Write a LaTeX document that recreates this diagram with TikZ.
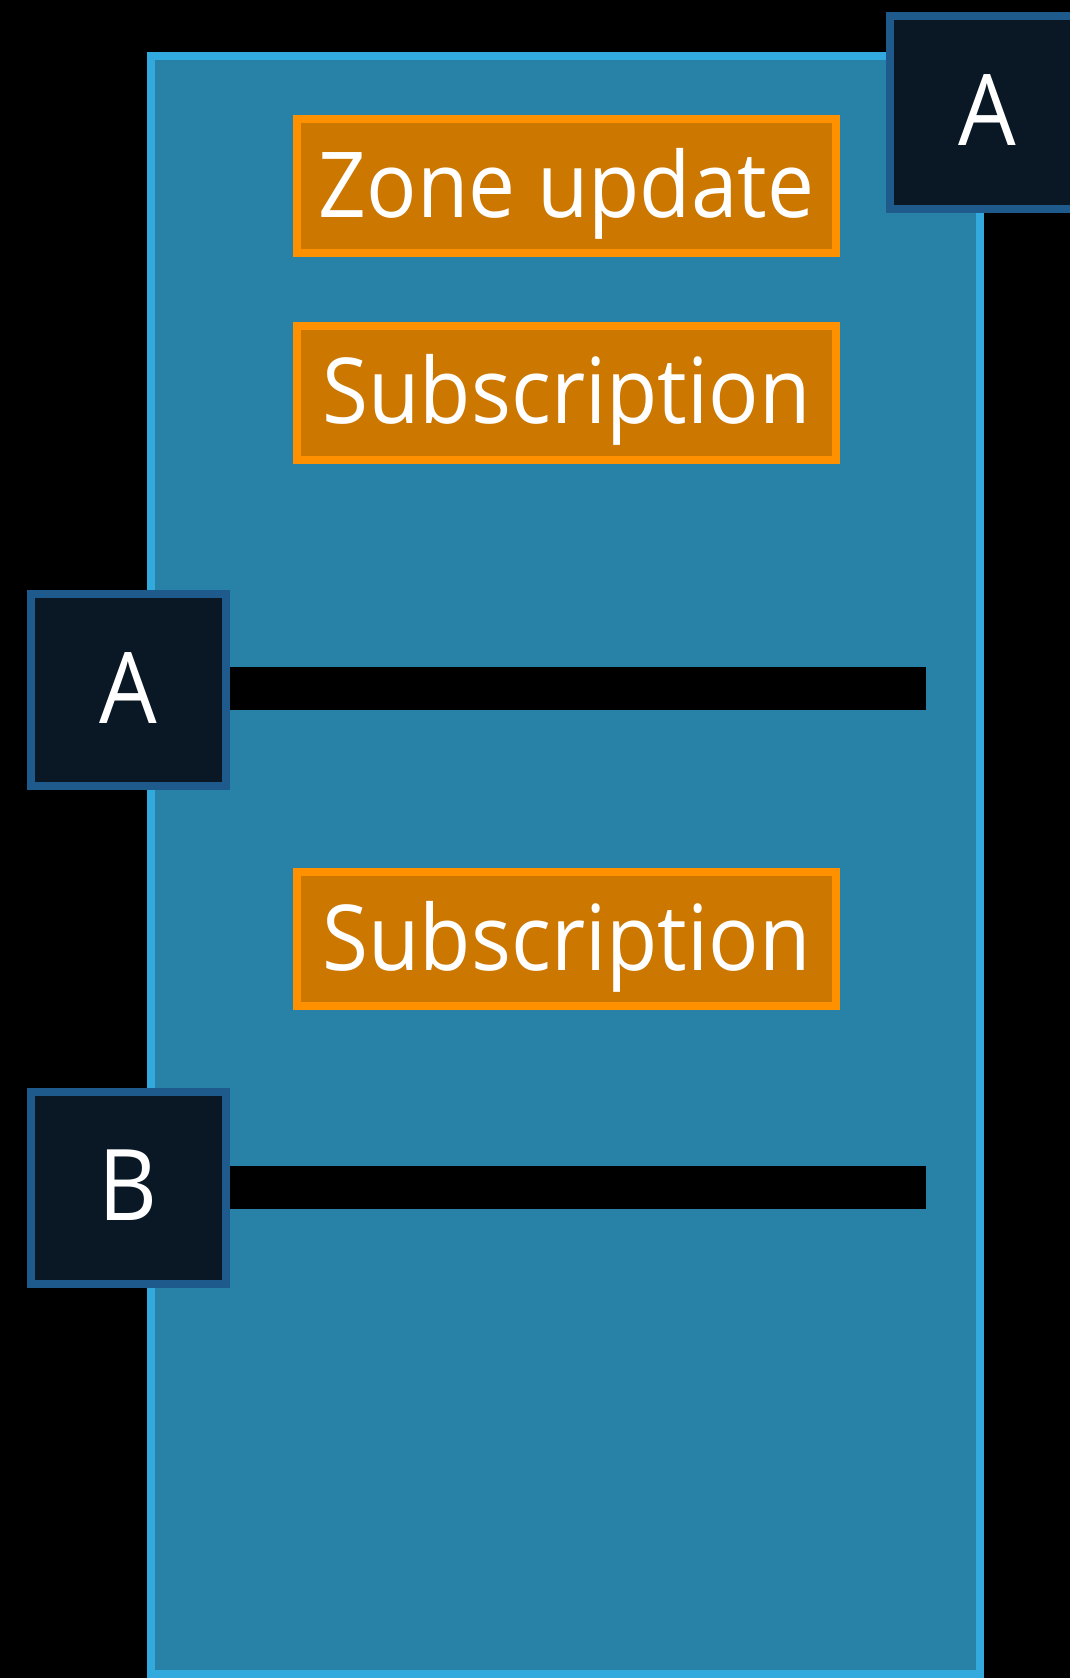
\documentclass[tikz,border=0pt]{standalone}
\usepackage{fontspec}
\setmainfont{Open Sans}[FakeStretch=0.92]
\definecolor{panelfill}{HTML}{2882A8}
\definecolor{paneledge}{HTML}{33AADD}
\definecolor{keyfill}{HTML}{091824}
\definecolor{keyedge}{HTML}{1F5A8C}
\definecolor{tagfill}{HTML}{CC7700}
\definecolor{tagedge}{HTML}{FF9000}
\begin{document}
\begin{tikzpicture}[x=1pt,y=-1pt,
  keybox/.style={draw=keyedge,fill=keyfill,line width=8pt,minimum width=195pt,minimum height=192pt,inner sep=0pt,text=white,font=\fontsize{99}{110}\selectfont,text height=66pt,text depth=0pt},
  tagbox/.style={draw=tagedge,fill=tagfill,line width=8pt,minimum width=539pt,minimum height=134pt,inner sep=0pt,text=white,font=\fontsize{91}{100}\selectfont,text height=62pt,text depth=0pt},
  bar/.style={line width=43pt,draw=black}]
\fill[black] (0,0) rectangle (1070,1678); \useasboundingbox (0,0) rectangle (1070,1678);
\node[draw=paneledge,fill=panelfill,line width=8pt,minimum width=829pt,minimum height=1618pt] (panel) at (565.5,865){};
% updates and subscriptions
\node[tagbox] (update) at (566.5,186){Zone update};
\node[tagbox] (subA) at (566.5,392.5){Subscription};
\node[tagbox] (subB) at (566.5,939){Subscription};
% clients
\node[keybox] (a) at (128.5,690){A};
\node[keybox] (b) at (128.5,1187.5){B};
\coordinate (aend) at (926,688.5); \coordinate (bend) at (926,1187);
\draw[bar] (a.east|-aend) -- (aend); \draw[bar] (b.east|-bend) -- (bend);
\node[keybox] (owner) at (987.5,112.5){A};
\end{tikzpicture}
\end{document}
